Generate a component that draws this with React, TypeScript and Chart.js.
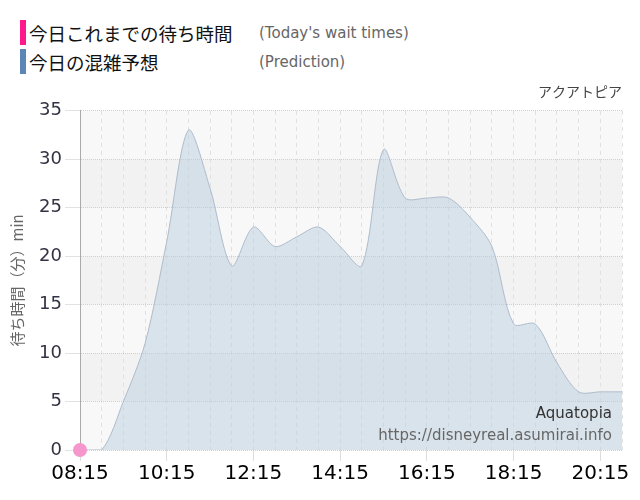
import { Chart, registerables } from "chart.js";
import type { Plugin } from "chart.js";
import { useEffect, useRef } from "react";

Chart.register(...registerables);

const times = [
  "08:15", "08:45", "09:15", "09:45", "10:15", "10:45", "11:15", "11:45",
  "12:15", "12:45", "13:15", "13:45", "14:15", "14:45", "15:15", "15:45",
  "16:15", "16:45", "17:15", "17:45", "18:15", "18:45", "19:15", "19:45",
  "20:15", "20:45",
];

const prediction = [
  0, 0, 5, 11, 21.5, 33, 27, 19, 23, 21, 22, 23, 21, 19, 31, 26, 26, 26, 24,
  21, 13, 13, 9, 6, 6, 6,
];

// only the first slot has a measured value so far
const todayWait: (number | null)[] = [0];

const yTicks = [0, 5, 10, 15, 20, 25, 30, 35];

const attractionName = "アクアトピア";
const watermarkName = "Aquatopia";
const watermarkUrl = "https://disneyreal.asumirai.info";

const JP_FONT = "'Noto Sans CJK JP', 'Noto Sans', sans-serif";
const TICK_FONT = "'DejaVu Sans', Verdana, sans-serif";

const bandsPlugin: Plugin<"line"> = {
  id: "bands",
  beforeDraw(chart) {
    const { ctx, chartArea, scales } = chart;
    const y = scales.y;
    ctx.save();
    for (let i = 0; i < yTicks.length - 1; i++) {
      const top = y.getPixelForValue(yTicks[i + 1]);
      const bottom = y.getPixelForValue(yTicks[i]);
      ctx.fillStyle = i % 2 === 0 ? "#f8f8f8" : "#f2f2f2";
      ctx.fillRect(chartArea.left, top, chartArea.right - chartArea.left, bottom - top);
    }
    ctx.restore();
  },
};

const watermarkPlugin: Plugin<"line"> = {
  id: "watermark",
  afterDraw(chart) {
    const { ctx, chartArea } = chart;
    ctx.save();
    ctx.textAlign = "right";
    ctx.textBaseline = "middle";
    ctx.font = `15px ${TICK_FONT}`;
    ctx.fillStyle = "#333";
    ctx.fillText(watermarkName, chartArea.right - 10, chartArea.bottom - 36);
    ctx.fillStyle = "#666";
    ctx.fillText(watermarkUrl, chartArea.right - 10, chartArea.bottom - 14);
    ctx.restore();
  },
};

function LegendRow({ color, label, sub }: { color: string; label: string; sub: string }) {
  return (
    <div style={{ display: "flex", alignItems: "center", height: 29 }}>
      <div style={{ width: 6, height: 25, background: color, marginRight: 3 }} />
      <div
        style={{
          width: 230,
          fontSize: 18.5,
          whiteSpace: "nowrap",
          color: "#111",
          fontFamily: JP_FONT,
        }}
      >
        {label}
      </div>
      <div style={{ fontSize: 15, color: "#666", fontFamily: TICK_FONT }}>{sub}</div>
    </div>
  );
}

function WaitChart() {
  const canvasRef = useRef<HTMLCanvasElement>(null);

  useEffect(() => {
    if (!canvasRef.current) return;
    const ctx = canvasRef.current.getContext("2d");
    if (!ctx) return;

    const chart = new Chart(ctx, {
      type: "line",
      data: {
        labels: times,
        datasets: [
          {
            label: "今日これまでの待ち時間",
            data: todayWait,
            borderColor: "rgba(245,150,205,1)",
            backgroundColor: "rgba(245,150,205,1)",
            pointRadius: 7,
            pointBorderWidth: 0,
            showLine: false,
            clip: false,
            order: 0,
          },
          {
            label: "今日の混雑予想",
            data: prediction,
            borderColor: "#aebccb",
            borderWidth: 1,
            backgroundColor: "rgba(185,205,222,0.5)",
            fill: "origin",
            tension: 0.3,
            pointRadius: 0,
            order: 1,
          },
        ],
      },
      options: {
        animation: false,
        responsive: false,
        layout: { padding: { left: 0, right: 10, top: 0, bottom: 0 } },
        plugins: {
          legend: { display: false },
          tooltip: { enabled: false },
          title: {
            display: true,
            text: attractionName,
            align: "end",
            color: "#444",
            font: { family: JP_FONT, size: 14, weight: "normal" },
            padding: { top: 3, bottom: 11 },
          },
        },
        scales: {
          x: {
            ticks: {
              autoSkip: false,
              maxRotation: 0,
              color: "#000",
              font: { family: TICK_FONT, size: 20 },
              padding: 1,
              callback: (_v, i) => (i % 4 === 0 ? times[i] : ""),
            },
            grid: {
              color: "#e0e0e0",
              tickLength: 11,
              tickColor: (c) => (c.index % 4 === 0 ? "#ddd" : "rgba(0,0,0,0)"),
            },
            border: { display: false, dash: [4, 4] },
            afterFit: (s) => {
              s.height = 40;
            },
          },
          y: {
            min: 0,
            max: 35,
            ticks: {
              stepSize: 5,
              color: "#333344",
              font: { family: TICK_FONT, size: 18 },
              padding: 3,
            },
            grid: {
              color: "#cfcfcf",
              tickLength: 15,
              tickColor: "#e2e2e2",
            },
            border: { display: true, color: "#aaa", dash: [1, 1] },
            title: {
              display: true,
              text: "待ち時間（分）min",
              color: "#666",
              font: { family: JP_FONT, size: 15 },
              padding: { top: 0, bottom: 0 },
            },
            afterFit: (s) => {
              s.width = 72;
            },
          },
        },
      },
      plugins: [bandsPlugin, watermarkPlugin],
    });

    return () => chart.destroy();
  }, []);

  return <canvas ref={canvasRef} width={624} height={410} style={{ display: "block" }} />;
}

export default function App() {
  return (
    <div>
      <div style={{ padding: "10px 0 4px 12px", height: 58 }}>
        <LegendRow color="#ff1a8c" label="今日これまでの待ち時間" sub="(Today's wait times)" />
        <LegendRow color="#5b86b5" label="今日の混雑予想" sub="(Prediction)" />
      </div>
      <WaitChart />
    </div>
  );
}
